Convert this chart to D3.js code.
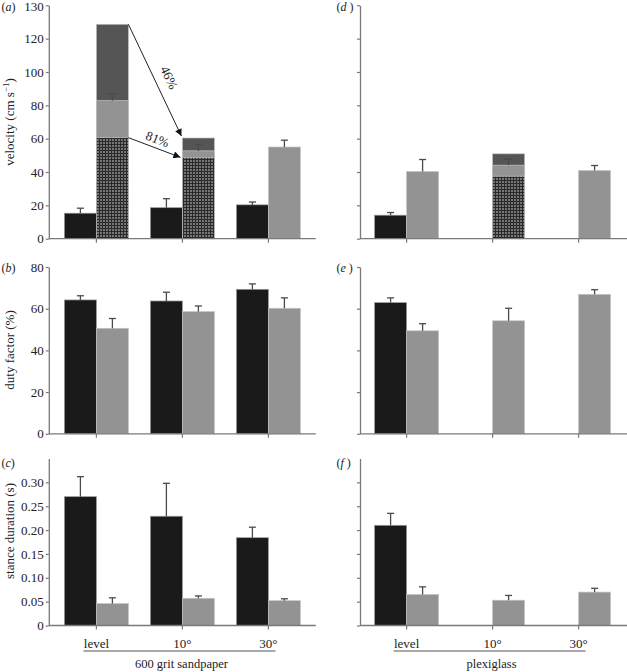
<!DOCTYPE html>
<html>
<head>
<meta charset="utf-8">
<script src="https://cdn.jsdelivr.net/npm/d3@7"></script>
<style>
  html, body { margin: 0; padding: 0; background: #fff; }
  svg { display: block; }
  text { font-family: "Liberation Serif", Tinos, "Times New Roman", Times, serif; fill: #222; }
</style>
</head>
<body>
<svg id="chart" width="627" height="672"></svg>
<script>
// ---------------- DATA ----------------
const categories = ["level", "10°", "30°"];
const surfaces = ["600 grit sandpaper", "plexiglass"];

// velocity (cm s-1)
const velTicks = [0, 20, 40, 60, 80, 100, 120, 140];
const velTickLabels = ["0", "20", "40", "60", "80", "100", "120", "130"];
const velBlackSand = [15.3, 18.6, 20.3];
const velBlackSandErr = [3.0, 5.4, 1.7];
const velGreySand = [82.8, 52.7, 55.0];
const velGreySandErr = [4.0, 3.9, 4.1];
const velHatchSand = [60.6, 48.8, null];
const velMaxSand = [128.6, 60.4, null];
const velBlackPlexi = [14.1, null, null];
const velBlackPlexiErr = [1.6, null, null];
const velGreyPlexi = [40.3, 44.1, 40.9];
const velGreyPlexiErr = [7.2, 3.5, 3.0];
const velHatchPlexi = [null, 37.5, null];
const velMaxPlexi = [null, 50.9, null];
const arrowLabels = ["46%", "81%"];

// duty factor (%)
const dutyTicks = [0, 20, 40, 60, 80];
const dutyTickLabels = ["0", "20", "40", "60", "80"];
const dutyBlackSand = [64.2, 63.7, 69.3];
const dutyBlackSandErr = [2.0, 4.2, 2.6];
const dutyGreySand = [50.6, 58.6, 60.2];
const dutyGreySandErr = [4.7, 2.7, 5.0];
const dutyBlackPlexi = [62.9, null, null];
const dutyBlackPlexiErr = [2.3, null, null];
const dutyGreyPlexi = [49.4, 54.2, 66.9];
const dutyGreyPlexiErr = [3.4, 6.0, 2.2];

// stance duration (s)
const stTicks = [0, 0.05, 0.10, 0.15, 0.20, 0.25, 0.30];
const stTickLabels = ["0", "0.05", "0.10", "0.15", "0.20", "0.25", "0.30"];
const stBlackSand = [0.270, 0.229, 0.184];
const stBlackSandErr = [0.042, 0.069, 0.022];
const stGreySand = [0.046, 0.057, 0.052];
const stGreySandErr = [0.012, 0.005, 0.004];
const stBlackPlexi = [0.210, null, null];
const stBlackPlexiErr = [0.025, null, null];
const stGreyPlexi = [0.065, 0.053, 0.070];
const stGreyPlexiErr = [0.016, 0.010, 0.008];

// ---------------- STYLE / LAYOUT ----------------
const FONT = "Liberation Serif, Tinos, Times New Roman, Times, serif";
const COL_BLACK = "#1a1a1a", COL_GREY = "#939393", COL_DARK = "#555555", COL_HATCH_BG = "#767676";
const COL_AXIS = "#7a7a7a", COL_ERR = "#4a4a4a";
const BW = 32;
const cols = [
  { axisX: 48.8, x0: 53.4 },
  { axisX: 360,  x0: 363.6 }
];
const rows = [
  { y0: 238.7, y1: 5.3,   max: 140,  ticks: velTicks,  labels: velTickLabels,  title: "velocity", letter: ["a", "d"], labelY: 10.5, titleY: 122 },
  { y0: 433.8, y1: 267.0, max: 80,   ticks: dutyTicks, labels: dutyTickLabels, title: "duty factor (%)", letter: ["b", "e"], labelY: 272, titleY: 350 },
  { y0: 625.5, y1: 458.5, max: 0.35, ticks: stTicks,   labels: stTickLabels,   title: "stance duration (s)", letter: ["c", "f"], labelY: 467, titleY: 531 }
];

const svg = d3.select("#chart");
const defs = svg.append("defs");
const pat = defs.append("pattern").attr("id", "hatch").attr("patternUnits", "userSpaceOnUse")
  .attr("width", 3).attr("height", 3);
pat.append("path").attr("d", "M0,0.5 H3 M0.5,0 V3").attr("stroke", "#2a2a2a").attr("stroke-width", 1).attr("fill", "none");
defs.append("marker").attr("id", "arrowhead").attr("viewBox", "0 0 10 10")
  .attr("refX", 10).attr("refY", 5).attr("markerWidth", 9).attr("markerHeight", 7)
  .attr("markerUnits", "userSpaceOnUse").attr("orient", "auto")
  .append("path").attr("d", "M0,0 L10,5 L0,10 Z").attr("fill", "#111");

const data = {
  "0-0": { black: velBlackSand, blackErr: velBlackSandErr, grey: velGreySand, greyErr: velGreySandErr, hatch: velHatchSand, max: velMaxSand },
  "0-1": { black: velBlackPlexi, blackErr: velBlackPlexiErr, grey: velGreyPlexi, greyErr: velGreyPlexiErr, hatch: velHatchPlexi, max: velMaxPlexi },
  "1-0": { black: dutyBlackSand, blackErr: dutyBlackSandErr, grey: dutyGreySand, greyErr: dutyGreySandErr },
  "1-1": { black: dutyBlackPlexi, blackErr: dutyBlackPlexiErr, grey: dutyGreyPlexi, greyErr: dutyGreyPlexiErr },
  "2-0": { black: stBlackSand, blackErr: stBlackSandErr, grey: stGreySand, greyErr: stGreySandErr },
  "2-1": { black: stBlackPlexi, blackErr: stBlackPlexiErr, grey: stGreyPlexi, greyErr: stGreyPlexiErr }
};

const scales = {};

rows.forEach((r, ri) => {
  cols.forEach((c, ci) => {
    const g = svg.append("g");
    const y = d3.scaleLinear().domain([0, r.max]).range([r.y0, r.y1]);
    const x = d3.scaleBand().domain(categories).range([c.x0, c.x0 + 258]).padding(0);
    scales[ri + "-" + ci] = { x, y };
    const d = data[ri + "-" + ci];
    const cx = cat => x(cat) + x.bandwidth() / 2;

    // bars
    categories.forEach((cat, i) => {
      const xc = cx(cat);
      if (d.black[i] != null) {
        g.append("rect").attr("x", xc - BW).attr("y", y(d.black[i])).attr("width", BW)
          .attr("height", y(0) - y(d.black[i])).attr("fill", COL_BLACK)
          .attr("stroke", "#9a9a9a").attr("stroke-width", 0.7);
      }
      if (d.max && d.max[i] != null) {
        g.append("rect").attr("x", xc).attr("y", y(d.max[i])).attr("width", BW)
          .attr("height", y(0) - y(d.max[i])).attr("fill", COL_DARK)
          .attr("stroke", "#bcbcbc").attr("stroke-width", 0.7);
      }
      if (d.grey[i] != null) {
        g.append("rect").attr("x", xc).attr("y", y(d.grey[i])).attr("width", BW)
          .attr("height", y(0) - y(d.grey[i])).attr("fill", COL_GREY)
          .attr("stroke", "#c4c4c4").attr("stroke-width", 0.7);
      }
      if (d.hatch && d.hatch[i] != null) {
        g.append("rect").attr("x", xc).attr("y", y(d.hatch[i])).attr("width", BW)
          .attr("height", y(0) - y(d.hatch[i])).attr("fill", COL_HATCH_BG);
        g.append("rect").attr("x", xc).attr("y", y(d.hatch[i])).attr("width", BW)
          .attr("height", y(0) - y(d.hatch[i])).attr("fill", "url(#hatch)")
          .attr("stroke", "#c4c4c4").attr("stroke-width", 0.7);
      }
      const errs = [];
      if (d.black[i] != null) errs.push([xc - BW / 2, d.black[i], d.blackErr[i]]);
      if (d.grey[i] != null) errs.push([xc + BW / 2, d.grey[i], d.greyErr[i]]);
      errs.forEach(([ex, v, e]) => {
        g.append("line").attr("x1", ex).attr("x2", ex).attr("y1", y(v)).attr("y2", y(v + e))
          .attr("stroke", COL_ERR).attr("stroke-width", 1.3);
        g.append("line").attr("x1", ex - 3.5).attr("x2", ex + 3.5).attr("y1", y(v + e)).attr("y2", y(v + e))
          .attr("stroke", COL_ERR).attr("stroke-width", 1.3);
      });
    });

    // y axis
    const ya = g.append("g").attr("transform", `translate(${c.axisX},0)`)
      .call(d3.axisLeft(y).tickValues(r.ticks)
        .tickFormat((v, i) => ci === 0 ? r.labels[i] : "")
        .tickSize(3).tickSizeOuter(0).tickPadding(2));
    ya.select(".domain").attr("stroke", COL_AXIS).attr("stroke-width", 1.3);
    ya.selectAll(".tick line").attr("stroke", COL_AXIS).attr("stroke-width", 1.2);
    ya.selectAll(".tick text").attr("font-size", 13).attr("fill", "#222").attr("font-family", FONT);
    ya.selectAll(".tick text").filter(v => y(v) < 8).attr("dy", "0.42em");

    // x axis
    g.append("line").attr("x1", c.axisX).attr("x2", c.axisX + 267).attr("y1", r.y0).attr("y2", r.y0)
      .attr("stroke", COL_AXIS).attr("stroke-width", 1.3);
    const xa = g.append("g").attr("transform", `translate(0,${r.y0})`)
      .call(d3.axisBottom(x).tickSize(4).tickSizeOuter(0).tickPadding(9)
        .tickFormat(v => ri === 2 ? v : ""));
    xa.select(".domain").remove();
    xa.selectAll(".tick line").attr("stroke", COL_AXIS).attr("stroke-width", 1.2);
    xa.selectAll(".tick text").attr("font-size", 13).attr("fill", "#222").attr("font-family", FONT);

    // panel letter
    const lt = svg.append("text").attr("x", ci === 0 ? 1.5 : 336.5).attr("y", r.labelY).attr("font-size", 12);
    lt.append("tspan").text("(");
    lt.append("tspan").attr("font-style", "italic").text(r.letter[ci]);
    lt.append("tspan").text(ci === 0 ? ")" : " )");

    // y title
    if (ci === 0) {
      const t = svg.append("text").attr("transform", `translate(13.5,${r.titleY}) rotate(-90)`)
        .attr("text-anchor", "middle").attr("font-size", 13);
      if (ri === 0) {
        t.append("tspan").text("velocity (cm s");
        t.append("tspan").attr("font-size", 9).attr("dy", -5).text("−1");
        t.append("tspan").attr("dy", 5).text(")");
      } else {
        t.text(r.title);
      }
    }

    // surface bracket
    if (ri === 2) {
      const bx1 = cx(categories[0]) - 13, bx2 = cx(categories[2]) + 7;
      svg.append("line").attr("x1", bx1).attr("x2", bx2).attr("y1", 651).attr("y2", 651)
        .attr("stroke", "#555").attr("stroke-width", 1);
      svg.append("text").attr("x", (bx1 + bx2) / 2 + 2).attr("y", 668).attr("text-anchor", "middle")
        .attr("font-size", 12.5).text(surfaces[ci]);
    }
  });
});

// arrows in panel (a)
(function () {
  const { x, y } = scales["0-0"];
  const cx = cat => x(cat) + x.bandwidth() / 2;
  const pairs = [
    { from: [cx(categories[0]) + BW, y(velMaxSand[0])], to: [cx(categories[1]) - 1, y(velMaxSand[1]) - 2], label: arrowLabels[0], side: 14, t: 0.53 },
    { from: [cx(categories[0]) + BW, y(velHatchSand[0])], to: [cx(categories[1]) - 2, y(velHatchSand[1])], label: arrowLabels[1], side: 9, t: 0.5 }
  ];
  pairs.forEach(p => {
    svg.append("line").attr("x1", p.from[0]).attr("y1", p.from[1]).attr("x2", p.to[0]).attr("y2", p.to[1])
      .attr("stroke", "#222").attr("stroke-width", 1).attr("marker-end", "url(#arrowhead)");
    const dx = p.to[0] - p.from[0], dy = p.to[1] - p.from[1];
    const len = Math.hypot(dx, dy), ux = dx / len, uy = dy / len;
    const ang = Math.atan2(dy, dx) * 180 / Math.PI;
    const mx = p.from[0] + dx * p.t + uy * p.side, my = p.from[1] + dy * p.t - ux * p.side;
    svg.append("text").attr("transform", `translate(${mx},${my}) rotate(${ang})`)
      .attr("text-anchor", "middle").attr("dominant-baseline", "central")
      .attr("font-size", 13).text(p.label);
  });
})();
</script>
</body>
</html>
